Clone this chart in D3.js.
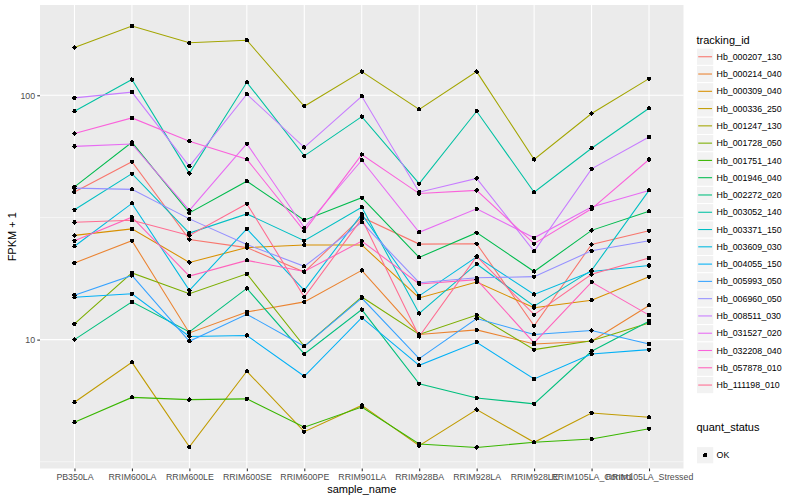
<!DOCTYPE html>
<html><head><meta charset="utf-8">
<script src="https://cdn.jsdelivr.net/npm/d3@7"></script>
<style>body{margin:0;background:#fff}svg{display:block}text{font-family:"Liberation Sans",Arial,sans-serif}</style>
</head><body>
<svg id="c" width="800" height="500"></svg>
<script>
const samples = ["PB350LA","RRIM600LA","RRIM600LE","RRIM600SE","RRIM600PE","RRIM901LA","RRIM928BA","RRIM928LA","RRIM928LE","RRIM105LA_Control","RRIM105LA_Stressed"];
const trackingIds = ["Hb_000207_130","Hb_000214_040","Hb_000309_040","Hb_000336_250","Hb_001247_130","Hb_001728_050","Hb_001751_140","Hb_001946_040","Hb_002272_020","Hb_003052_140","Hb_003371_150","Hb_003609_030","Hb_004055_150","Hb_005993_050","Hb_006960_050","Hb_008511_030","Hb_031527_020","Hb_032208_040","Hb_057878_010","Hb_111198_010"];
const colors = ["#F8766D","#EA8331","#D89000","#C09B00","#A3A500","#7CAE00","#39B600","#00BB4E","#00BF7D","#00C1A3","#00BFC4","#00BAE0","#00B0F6","#35A2FF","#9590FF","#C77CFF","#E76BF3","#FA62DB","#FF62BC","#FF6C91"];
const quantStatus = ["OK"];
const yTicks = [10, 100];

// FPKM + 1 per sample
const Hb_000207_130 = [40.2, 53.5, 25.7, 23.8, 18.9, 31.7, 24.6, 24.7, 11.4, 24.5, 27.9];
const Hb_000214_040 = [20.6, 25.4, 10.65, 12.98, 14.27, 19.2, 10.5, 10.96, 9.6, 9.84, 13.8];
const Hb_000309_040 = [26.7, 28.4, 20.7, 23.8, 24.4, 24.4, 14.8, 17.2, 13.5, 14.5, 18.1];
const Hb_000336_250 = [5.54, 8.07, 3.64, 7.42, 4.2, 5.38, 3.68, 5.17, 3.8, 5.01, 4.81];
const Hb_001247_130 = [157, 192, 164, 168, 90.2, 125, 87.6, 125, 54.6, 84.2, 117];
const Hb_001728_050 = [11.6, 18.75, 15.4, 18.6, 9.39, 14.95, 10.5, 12.6, 9.1, 9.9, 11.7];
const Hb_001751_140 = [4.59, 5.8, 5.68, 5.72, 4.38, 5.3, 3.74, 3.62, 3.8, 3.92, 4.32];
const Hb_001946_040 = [42.2, 64.2, 33.0, 44.5, 30.8, 38.1, 21.7, 27.4, 19.0, 28.0, 33.5];
const Hb_002272_020 = [10.0, 14.27, 10.75, 16.2, 8.74, 13.27, 6.6, 5.77, 5.46, 8.96, 11.9];
const Hb_003052_140 = [86.0, 116, 47.9, 113, 56.5, 81.8, 43.5, 86, 40.1, 60.7, 88.5];
const Hb_003371_150 = [34.0, 47.8, 27.3, 32.7, 25.4, 34.8, 12.8, 20.4, 13.7, 19.2, 40.8];
const Hb_003609_030 = [24.1, 36.1, 15.9, 28.4, 15.9, 32.6, 15.1, 21.8, 15.3, 19.0, 20.1];
const Hb_004055_150 = [14.9, 15.4, 10.3, 10.4, 7.08, 12.3, 7.85, 9.75, 6.9, 8.74, 9.1];
const Hb_005993_050 = [15.2, 18.3, 9.84, 12.7, 9.39, 14.8, 8.36, 12.2, 10.5, 10.9, 9.6];
const Hb_006960_050 = [41.7, 41.2, 31.2, 24.5, 19.95, 30.2, 17.1, 17.9, 18.1, 23.1, 25.4];
const Hb_008511_030 = [97.6, 103, 51.2, 101, 61.2, 99.1, 40.1, 45.7, 23.0, 50.0, 67.5];
const Hb_031527_020 = [61.8, 63.2, 33.8, 63.4, 28.7, 54.2, 27.5, 34.3, 26.1, 34.9, 40.8];
const Hb_032208_040 = [69.7, 80.8, 64.8, 54.7, 27.8, 57.2, 39.6, 40.8, 24.7, 34.3, 54.6];
const Hb_057878_010 = [25.4, 31.7, 18.2, 21.1, 19.0, 25.3, 16.9, 17.6, 9.7, 17.2, 12.6];
const Hb_111198_010 = [30.2, 30.8, 26.7, 36.0, 14.95, 31.2, 10.3, 21.9, 12.66, 18.5, 21.6];

const seriesValues = [Hb_000207_130,Hb_000214_040,Hb_000309_040,Hb_000336_250,Hb_001247_130,Hb_001728_050,Hb_001751_140,Hb_001946_040,Hb_002272_020,Hb_003052_140,Hb_003371_150,Hb_003609_030,Hb_004055_150,Hb_005993_050,Hb_006960_050,Hb_008511_030,Hb_031527_020,Hb_032208_040,Hb_057878_010,Hb_111198_010];
const series = trackingIds.map((id,i)=>({id, color:colors[i], values:seriesValues[i].map((v,j)=>({sample:samples[j], v}))}));

const svg = d3.select("#c");
const P = {l:40, r:683.5, t:5, b:468.5};

const x = d3.scalePoint().domain(samples).range([P.l, P.r]).padding(0.6);
const all = seriesValues.flat();
const lmin = Math.log10(d3.min(all)), lmax = Math.log10(d3.max(all));
const ex = (lmax - lmin) * 0.05;
const y = d3.scaleLog().domain([Math.pow(10, lmin-ex), Math.pow(10, lmax+ex)]).range([P.b, P.t]);

// panel
svg.append("rect").attr("x",P.l).attr("y",P.t).attr("width",P.r-P.l).attr("height",P.b-P.t).attr("fill","#EBEBEB");
const g = svg.append("g");
const minor = [Math.pow(10,0.5), Math.pow(10,1.5), Math.pow(10,2.5)].filter(v=>y(v)>=P.t && y(v)<=P.b);
g.selectAll(".ymin").data(minor).join("line").attr("x1",P.l).attr("x2",P.r).attr("y1",d=>y(d)).attr("y2",d=>y(d)).attr("stroke","#fff").attr("stroke-width",0.53);
g.selectAll(".ymaj").data(yTicks).join("line").attr("x1",P.l).attr("x2",P.r).attr("y1",d=>y(d)).attr("y2",d=>y(d)).attr("stroke","#fff").attr("stroke-width",1.07);
g.selectAll(".xmaj").data(samples).join("line").attr("x1",d=>x(d)).attr("x2",d=>x(d)).attr("y1",P.t).attr("y2",P.b).attr("stroke","#fff").attr("stroke-width",1.07);

// lines
const line = d3.line().x(d=>x(d.sample)).y(d=>y(d.v));
svg.append("g").selectAll("path").data(series).join("path").attr("d",d=>line(d.values)).attr("fill","none").attr("stroke",d=>d.color).attr("stroke-width",1.07);
// points
svg.append("g").selectAll("g").data(series).join("g").selectAll("circle").data(d=>d.values).join("circle")
  .attr("cx",d=>x(d.sample)).attr("cy",d=>y(d.v)).attr("r",2.2).attr("fill","#000").attr("shape-rendering","crispEdges");

// axes
const xa = svg.append("g").attr("transform",`translate(0,${P.b})`).call(d3.axisBottom(x).tickSize(2.75).tickPadding(2.2));
const ya = svg.append("g").attr("transform",`translate(${P.l},0)`).call(d3.axisLeft(y).tickValues(yTicks).tickFormat(d3.format("d")).tickSize(2.75).tickPadding(2.2));
[xa,ya].forEach(a=>{a.select(".domain").remove(); a.selectAll(".tick line").attr("stroke","#333").attr("stroke-width",1.07);
  a.selectAll(".tick text").attr("fill","#4D4D4D").style("font-size","8.8px").style("font-family","'Liberation Sans',Arial,sans-serif");});

svg.append("text").attr("x",(P.l+P.r)/2).attr("y",493).attr("text-anchor","middle").style("font-size","11px").attr("fill","#000").text("sample_name");
svg.append("text").attr("transform",`translate(15.5,${(P.t+P.b)/2}) rotate(-90)`).attr("text-anchor","middle").style("font-size","11px").attr("fill","#000").text("FPKM + 1");

// legend 1
const L = {x:696.5, t:48.1, k:17.28};
svg.append("text").attr("x",L.x).attr("y",44).style("font-size","11px").text("tracking_id");
const lg = svg.append("g").selectAll("g").data(series).join("g").attr("transform",(d,i)=>`translate(${L.x},${L.t+i*L.k})`);
lg.append("rect").attr("width",L.k).attr("height",L.k).attr("fill","#F2F2F2").attr("stroke","#fff").attr("stroke-width",1);
lg.append("line").attr("x1",L.k*0.1).attr("x2",L.k*0.9).attr("y1",L.k/2).attr("y2",L.k/2).attr("stroke",d=>d.color).attr("stroke-width",1.07);
lg.append("text").attr("x",L.k+2.8).attr("y",L.k/2+3.1).style("font-size","8.8px").text(d=>d.id);

// legend 2
svg.append("text").attr("x",L.x).attr("y",431).style("font-size","11px").text("quant_status");
const q = svg.append("g").selectAll("g").data(quantStatus).join("g").attr("transform",(d,i)=>`translate(${L.x},${446.6+i*L.k})`);
q.append("rect").attr("width",L.k).attr("height",L.k).attr("fill","#F2F2F2").attr("stroke","#fff");
q.append("circle").attr("cx",L.k/2).attr("cy",L.k/2).attr("r",2.2).attr("fill","#000").attr("shape-rendering","crispEdges");
q.append("text").attr("x",L.k+2.8).attr("y",L.k/2+3.1).style("font-size","8.8px").text(d=>d);
</script>
</body></html>
